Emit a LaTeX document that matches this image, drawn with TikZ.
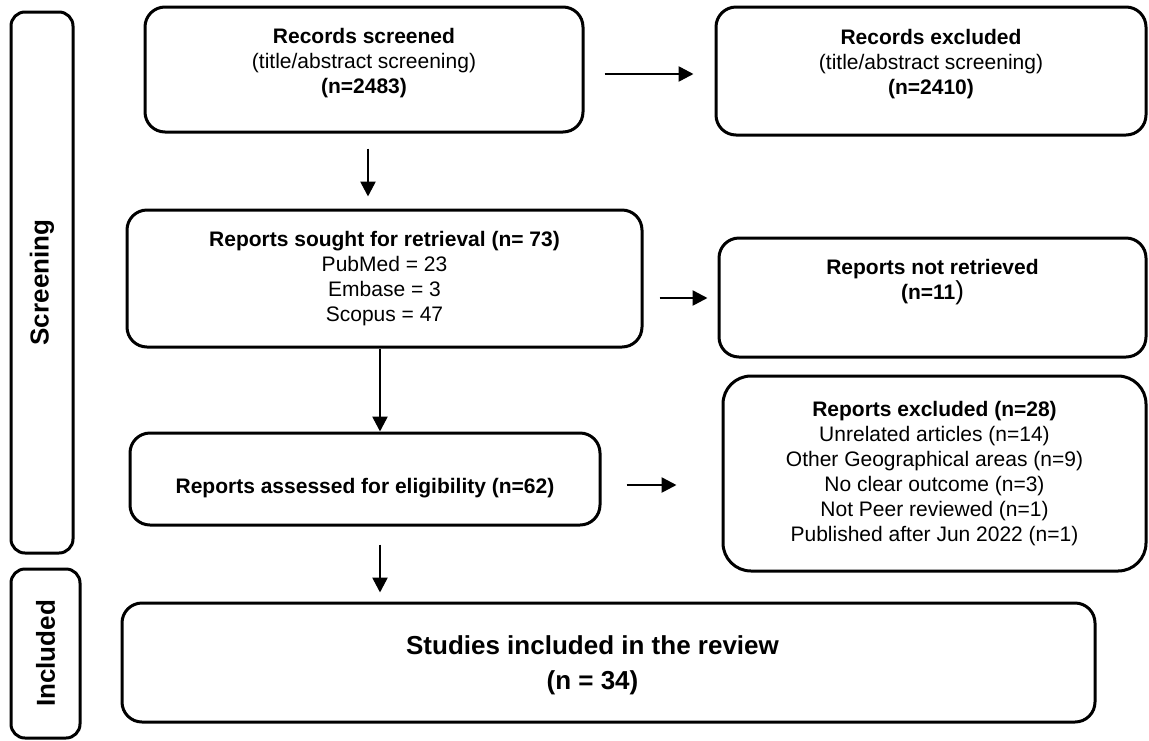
\documentclass[tikz,border=0pt]{standalone}
\usepackage{fontspec}
\setmainfont{Liberation Sans}
\usetikzlibrary{arrows.meta}
\tikzset{box/.style={rectangle, rounded corners=20pt, line width=3pt, draw}}
\tikzset{side/.style={rectangle, rounded corners=14pt, line width=3pt, draw}}
\tikzset{txt/.style={align=center, font=\fontsize{21}{25}\selectfont}}
\tikzset{sidetxt/.style={rotate=90, font=\fontsize{26}{30}\selectfont\bfseries}}
\tikzset{arr/.style={line width=2.6pt, -{Triangle[length=15pt,width=15pt]}}}

\begin{document}
\begin{tikzpicture}[x=1pt, y=-1pt]

    \path[use as bounding box, fill=white] (0,0) rectangle (1149,740);

    \node[side, minimum width=62pt, minimum height=541pt, label={[sidetxt]center:Screening}] (screen) at (42,282.5) {};
    \node[side, minimum width=69pt, minimum height=169pt, label={[sidetxt]center:Included}] (incl) at (45.5,653.5) {};

    \node[box, minimum width=438pt, minimum height=125pt, label={[txt, yshift=6pt]center:{\bfseries Records screened}\\(title/abstract screening)\\{\bfseries (n=2483)}}] (rscreen) at (364,69.5) {};
    \node[box, minimum width=430pt, minimum height=128pt, label={[txt, yshift=7pt]center:{\bfseries Records excluded}\\(title/abstract screening)\\{\bfseries (n=2410)}}] (rexcl) at (931,71) {};
    \node[box, minimum width=515pt, minimum height=137pt, label={[txt]center:{\bfseries Reports sought for retrieval (n= 73)}\\PubMed = 23\\Embase = 3\\Scopus = 47}] (sought) at (384.5,278.5) {};
    \node[box, minimum width=427pt, minimum height=119pt, label={[txt, yshift=15pt]center:{\bfseries Reports not retrieved}\\{\bfseries (n=11}{\fontsize{26}{25}\selectfont )}}] (notret) at (932.5,297.5) {};
    \node[box, minimum width=470pt, minimum height=92pt, label={[txt, yshift=-9pt]center:{\bfseries Reports assessed for eligibility (n=62)}}] (assess) at (365,479) {};
    \node[box, rounded corners=28pt, minimum width=423pt, minimum height=195pt, label={[txt]center:{\bfseries Reports excluded (n=28)}\\Unrelated articles (n=14)\\Other Geographical areas (n=9)\\No clear outcome (n=3)\\Not Peer reviewed (n=1)\\Published after Jun 2022 (n=1)}] (rptexcl) at (934.5,473.5) {};
    \node[box, minimum width=973pt, minimum height=119pt, label={[align=center, font=\fontsize{26}{35}\selectfont\bfseries, xshift=-16pt, yshift=-3pt]center:Studies included in the review\\(n = 34)}] (studies) at (608.5,662.5) {};

    \draw[arr] ([xshift=20pt, yshift=-4.5pt]rscreen.east) -- ([xshift=-21pt, yshift=-3pt]rexcl.west);
    \draw[arr] ([xshift=4pt, yshift=-15pt]rscreen.south) -- ([xshift=-16.5pt, yshift=12pt]sought.north);
    \draw[arr] ([xshift=-4.5pt]sought.south) -- ([xshift=15pt]assess.north);
    \draw[arr] ([xshift=16pt, yshift=-19.5pt]sought.east) -- ([xshift=-10pt, yshift=-0.5pt]notret.west);
    \draw[arr] ([xshift=25pt, yshift=-6pt]assess.east) -- ([xshift=-45pt, yshift=-11.5pt]rptexcl.west);
    \draw[arr] ([xshift=15pt, yshift=-18pt]assess.south) -- ([xshift=-228.5pt, yshift=9pt]studies.north);

  \end{tikzpicture}
\end{document}
